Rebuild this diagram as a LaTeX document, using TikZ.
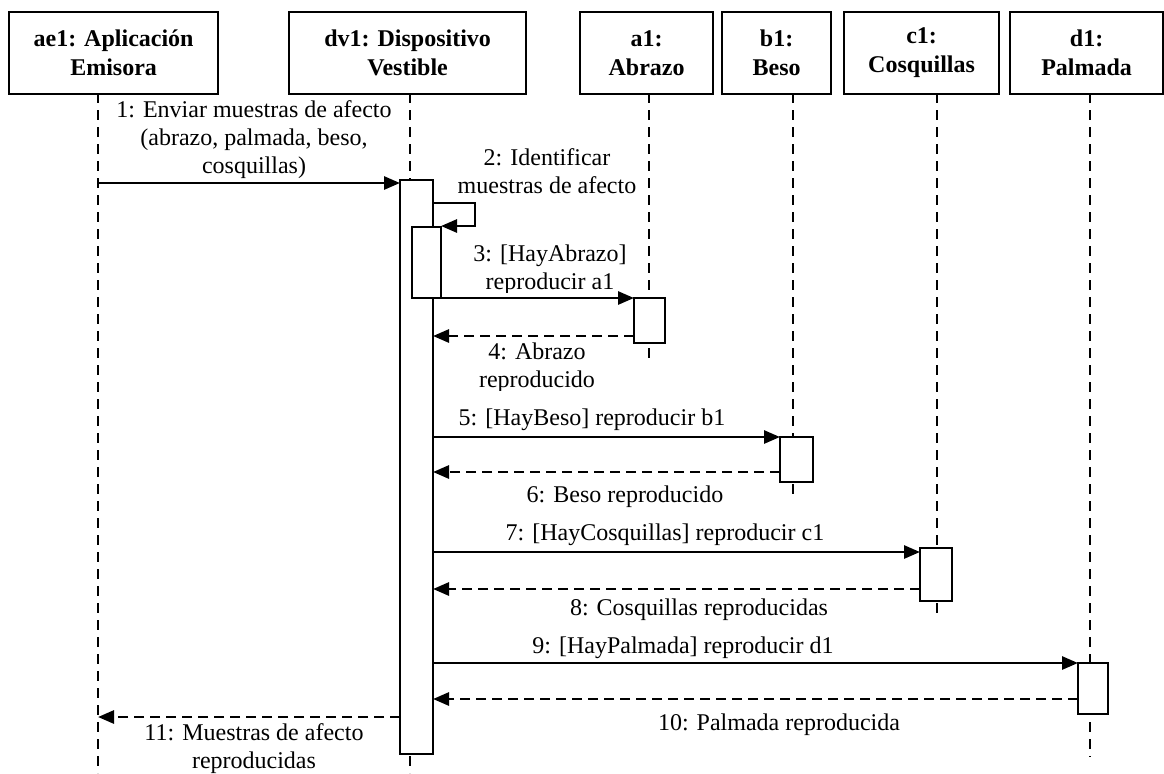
\documentclass[tikz,border=0pt]{standalone}
\usepackage{fontspec}
\setmainfont{Liberation Serif}
\usetikzlibrary{arrows.meta}
\begin{document}
\begin{tikzpicture}[x=0.5pt,y=-0.5pt,
  head/.style={draw, line width=1.1pt, align=center, inner sep=0pt,
    font=\fontsize{12}{14.5}\selectfont\bfseries,
    minimum height=41pt, anchor=north west},
  life/.style={line width=1.2pt, dash pattern=on 5pt off 3.5pt},
  act/.style={draw, fill=white, line width=1.2pt, inner sep=0pt, outer sep=0pt, anchor=north west},
  msg/.style={line width=1.4pt, -{Triangle[length=8pt,width=6.5pt]}},
  ret/.style={msg, dash pattern=on 5pt off 3pt},
  lbl/.style={align=center, inner sep=0pt, anchor=base, font=\fontsize{12}{14}\selectfont}]

\useasboundingbox (0,0) rectangle (1164,773);

% object heads
\node[head, minimum width=104.5pt] (ae1) at (8,11)    {ae1: Aplicación\\Emisora};
\node[head, minimum width=118.5pt] (dv1) at (288,11)  {dv1: Dispositivo\\Vestible};
\node[head, minimum width=66.5pt]  (a1)  at (579,11)  {a1:\\Abrazo};
\node[head, minimum width=54.5pt]  (b1)  at (721,11)  {b1:\\Beso};
\node[head, minimum width=77.5pt]  (c1)  at (843,11)  {c1:\\Cosquillas};
\node[head, minimum width=76.5pt]  (d1)  at (1009,11) {d1:\\Palmada};

% lifelines
\coordinate (ae1T) at (98,93);   \coordinate (ae1B) at (98,773);
\coordinate (dv1T) at (410,93);  \coordinate (dv1B) at (410,773);
\coordinate (a1T)  at (649,93);  \coordinate (a1B)  at (649,363);
\coordinate (b1T)  at (793,93);  \coordinate (b1B)  at (793,500);
\coordinate (c1T)  at (937,93);  \coordinate (c1B)  at (937,615);
\coordinate (d1T)  at (1090,93); \coordinate (d1B)  at (1090,757);
\foreach \l in {ae1,dv1,a1,b1,c1,d1} \draw[life] (\l T) -- (\l B);

% activation bars
\node[act, minimum width=16.5pt, minimum height=287pt]  (actdv)  at (400,180) {};
\node[act, minimum width=14.5pt, minimum height=35.5pt] (actdv2) at (412,227) {};
\node[act, minimum width=15.5pt, minimum height=22.5pt] (acta)   at (634,298) {};
\node[act, minimum width=16.5pt, minimum height=22.5pt] (actb)   at (780,437) {};
\node[act, minimum width=16pt,   minimum height=26.5pt] (actc)   at (920,548) {};
\node[act, minimum width=15pt,   minimum height=25.5pt] (actd)   at (1078,663) {};

% messages
\draw[msg] (ae1T |- 0,183) -- (actdv.west |- 0,183);
\coordinate (self) at (475,226);
\draw[msg] (actdv.east |- 0,203) -| (self) -- (actdv2.east |- self);
\draw[msg] (actdv2.east |- 0,298) -- (acta.west |- 0,298);
\draw[ret] (acta.west |- 0,336) -- (actdv.east |- 0,336);
\draw[msg] (actdv.east |- 0,437) -- (actb.west |- 0,437);
\draw[ret] (actb.west |- 0,472) -- (actdv.east |- 0,472);
\draw[msg] (actdv.east |- 0,552) -- (actc.west |- 0,552);
\draw[ret] (actc.west |- 0,589) -- (actdv.east |- 0,589);
\draw[msg] (actdv.east |- 0,663) -- (actd.west |- 0,663);
\draw[ret] (actd.west |- 0,699) -- (actdv.east |- 0,699);
\draw[ret] (actdv.west |- 0,717) -- (ae1T |- 0,717);

% message labels (anchor = baseline of the last line)
\node[lbl] (m1) at (254,173) {1: Enviar muestras de afecto\\(abrazo, palmada, beso,\\cosquillas)};
\node[lbl] (m2) at (547,193) {2: Identificar\\muestras de afecto};
\begin{scope}
  \clip (440,230) rectangle (640,292);
  \node[lbl] (m3) at (550,289) {3: [HayAbrazo]\\reproducir a1};
\end{scope}
\begin{scope}
  \clip (440,340) rectangle (640,390);
  \node[lbl] (m4) at (537,387) {4: Abrazo\\reproducido};
\end{scope}
\node[lbl] (m5)  at (592,425) {5: [HayBeso] reproducir b1};
\node[lbl] (m6)  at (625,502) {6: Beso reproducido};
\node[lbl] (m7)  at (665,540) {7: [HayCosquillas] reproducir c1};
\node[lbl] (m8)  at (699,615) {8: Cosquillas reproducidas};
\node[lbl] (m9)  at (683,653) {9: [HayPalmada] reproducir d1};
\node[lbl] (m10) at (779,730) {10: Palmada reproducida};
\node[lbl] (m11) at (254,768) {11: Muestras de afecto\\reproducidas};
\end{tikzpicture}
\end{document}
